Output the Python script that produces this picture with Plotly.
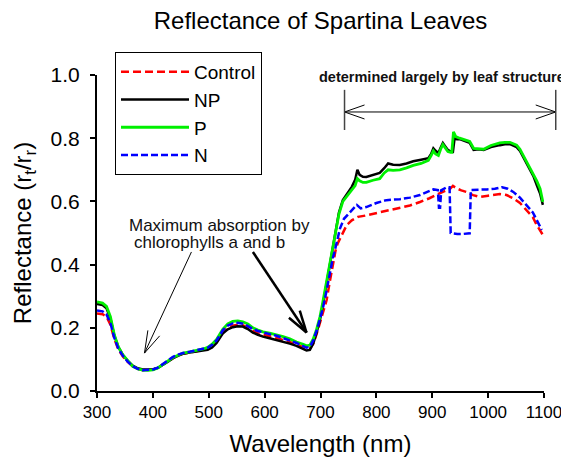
import math
import plotly.graph_objects as go

# ---------------- data ----------------
wl_control = [300, 310, 317, 324, 331, 338, 346, 355, 364, 373, 382, 391, 400, 409, 418, 427, 436, 445, 454, 466,
              478, 490, 498, 506, 514, 520, 525, 534, 543, 552, 561, 570, 579, 588, 597, 609, 621, 633, 645, 657,
              669, 675, 681, 687, 693, 699, 704, 711, 716, 722, 727, 731, 740, 747, 756, 767, 780, 801, 820, 842,
              860, 878, 895, 914, 925, 932, 937, 945, 952, 961, 973, 985, 1000, 1021, 1033, 1045, 1057, 1069, 1080,
              1087, 1093, 1098]
r_control = [0.245, 0.243, 0.235, 0.210, 0.165, 0.132, 0.110, 0.092, 0.078, 0.070, 0.066, 0.066, 0.068, 0.074,
             0.084, 0.095, 0.105, 0.113, 0.118, 0.122, 0.126, 0.130, 0.133, 0.140, 0.155, 0.170, 0.185, 0.200,
             0.207, 0.210, 0.208, 0.200, 0.190, 0.183, 0.178, 0.173, 0.168, 0.162, 0.155, 0.148, 0.138, 0.133,
             0.134, 0.150, 0.180, 0.215, 0.250, 0.288, 0.340, 0.405, 0.445, 0.468, 0.500, 0.525, 0.540, 0.551,
             0.555, 0.563, 0.570, 0.579, 0.587, 0.598, 0.610, 0.626, 0.635, 0.640, 0.649, 0.640, 0.635, 0.630,
             0.620, 0.614, 0.618, 0.623, 0.620, 0.610, 0.595, 0.573, 0.550, 0.525, 0.510, 0.494]

wl_np = [300, 310, 317, 324, 331, 338, 346, 355, 364, 373, 382, 391, 400, 409, 418, 427, 436, 445, 454, 466,
         478, 490, 498, 506, 514, 520, 525, 534, 543, 552, 561, 570, 579, 588, 597, 609, 621, 633, 645, 657,
         669, 675, 681, 687, 693, 699, 704, 710, 716, 722, 728, 733, 740, 748, 756, 762, 766, 770, 776, 782,
         794, 806, 814, 821, 830, 842, 854, 866, 880, 893, 898, 902, 906, 911, 915, 919, 923, 928, 933, 937,
         940, 944, 949, 958, 967, 974, 983, 992, 1005, 1021, 1030, 1039, 1051, 1057, 1063, 1069, 1075, 1081,
         1087, 1093, 1098]
r_np = [0.275, 0.272, 0.262, 0.230, 0.175, 0.140, 0.115, 0.095, 0.080, 0.072, 0.068, 0.067, 0.068, 0.073,
        0.082, 0.093, 0.104, 0.112, 0.118, 0.122, 0.125, 0.128, 0.130, 0.138, 0.152, 0.168, 0.182, 0.195,
        0.202, 0.205, 0.204, 0.196, 0.185, 0.178, 0.172, 0.167, 0.162, 0.156, 0.150, 0.143, 0.133, 0.128,
        0.130, 0.150, 0.185, 0.225, 0.270, 0.330, 0.390, 0.460, 0.520, 0.565, 0.604, 0.625, 0.646, 0.668,
        0.700, 0.684, 0.678, 0.677, 0.684, 0.690, 0.705, 0.720, 0.716, 0.715, 0.720, 0.727, 0.732, 0.737,
        0.750, 0.768, 0.760, 0.753, 0.770, 0.785, 0.775, 0.763, 0.758, 0.757, 0.800, 0.797, 0.797, 0.790,
        0.785, 0.763, 0.765, 0.763, 0.772, 0.778, 0.781, 0.781, 0.772, 0.760, 0.740, 0.720, 0.700, 0.680,
        0.652, 0.625, 0.589]

wl_p = [300, 310, 317, 324, 331, 338, 346, 355, 364, 373, 382, 391, 400, 409, 418, 427, 436, 445, 454, 466,
        478, 490, 498, 506, 514, 520, 525, 534, 543, 552, 561, 570, 579, 588, 597, 609, 621, 633, 645, 657,
        669, 675, 681, 687, 693, 699, 704, 710, 716, 722, 728, 733, 740, 748, 756, 762, 766, 770, 776, 782,
        794, 806, 814, 821, 830, 842, 854, 866, 880, 893, 898, 902, 906, 911, 915, 919, 923, 928, 933, 935,
        938, 942, 949, 958, 967, 974, 983, 992, 1005, 1021, 1030, 1039, 1051, 1057, 1063, 1069, 1075, 1081,
        1087, 1093, 1098]
r_p = [0.282, 0.278, 0.268, 0.235, 0.178, 0.140, 0.115, 0.095, 0.078, 0.070, 0.066, 0.065, 0.067, 0.073,
       0.083, 0.095, 0.106, 0.114, 0.120, 0.124, 0.128, 0.133, 0.138, 0.148, 0.163, 0.180, 0.195, 0.212,
       0.220, 0.222, 0.219, 0.212, 0.200, 0.193, 0.187, 0.183, 0.178, 0.172, 0.165, 0.155, 0.148, 0.143,
       0.145, 0.165, 0.195, 0.235, 0.280, 0.340, 0.395, 0.460, 0.520, 0.560, 0.600, 0.618, 0.635, 0.650,
       0.672, 0.665, 0.660, 0.660, 0.667, 0.672, 0.690, 0.700, 0.698, 0.700, 0.706, 0.714, 0.720, 0.730,
       0.745, 0.760, 0.750, 0.745, 0.765, 0.780, 0.770, 0.758, 0.755, 0.755, 0.820, 0.805, 0.800, 0.795,
       0.790, 0.768, 0.766, 0.765, 0.777, 0.785, 0.787, 0.787, 0.778, 0.765, 0.745, 0.725, 0.710, 0.690,
       0.665, 0.640, 0.598]

wl_n = [300, 310, 317, 324, 331, 338, 346, 355, 364, 373, 382, 391, 400, 409, 418, 427, 436, 445, 454, 466,
        478, 490, 498, 506, 514, 520, 525, 534, 543, 552, 561, 570, 579, 588, 597, 609, 621, 633, 645, 657,
        669, 675, 681, 687, 693, 699, 704, 710, 716, 722, 725, 731, 735, 742, 752, 760, 765, 772, 782, 800,
        818, 842, 860, 878, 895, 902, 910, 912, 914, 916, 926, 931, 933, 945, 955, 967, 969, 985, 998, 1012,
        1025, 1035, 1045, 1057, 1069, 1080, 1087, 1096]
r_n = [0.255, 0.252, 0.242, 0.215, 0.168, 0.135, 0.112, 0.093, 0.078, 0.070, 0.066, 0.066, 0.068, 0.074,
       0.085, 0.097, 0.108, 0.115, 0.120, 0.124, 0.128, 0.133, 0.137, 0.146, 0.160, 0.177, 0.192, 0.207,
       0.214, 0.216, 0.213, 0.205, 0.196, 0.190, 0.185, 0.180, 0.175, 0.168, 0.160, 0.152, 0.142, 0.137,
       0.140, 0.160, 0.190, 0.225, 0.260, 0.310, 0.370, 0.420, 0.440, 0.490, 0.515, 0.545, 0.563, 0.580,
       0.589, 0.578, 0.582, 0.595, 0.604, 0.607, 0.612, 0.620, 0.632, 0.638, 0.636, 0.580, 0.580, 0.635,
       0.645, 0.645, 0.500, 0.497, 0.497, 0.499, 0.636, 0.636, 0.638, 0.640, 0.645, 0.640, 0.630, 0.612,
       0.589, 0.565, 0.541, 0.510]

x_ticks = [300, 400, 500, 600, 700, 800, 900, 1000, 1100]
y_ticks = [0.0, 0.2, 0.4, 0.6, 0.8, 1.0]

# ---------------- layout geometry ----------------
# The page body has an 8px default margin, so the figure is drawn 8px smaller
# and all screen positions below are given in window pixels.
OFF = 8
WIN_W, WIN_H = 569, 464
W, H = WIN_W - OFF, WIN_H - OFF
SL, SR, ST, SB = 97, 544, 75, 391          # plot area in window pixels
ML, MR, MT, MB = SL - OFF, WIN_W - SR, ST - OFF, WIN_H - SB
PW, PH = SR - SL, SB - ST
X0, X1 = 300, 1100
Y0, Y1 = 0.0, 1.0

def to_px(x, y):
    return SL + (x - X0) / (X1 - X0) * PW, ST + (Y1 - y) / (Y1 - Y0) * PH

def to_paper(px, py):
    return (px - SL) / PW, (SB - py) / PH

FONT = "Liberation Sans, Arial, Helvetica, sans-serif"

fig = go.Figure()
fig.add_trace(go.Scatter(x=wl_control, y=r_control, name="Control", mode="lines",
                         line=dict(color="#ff0000", width=2.5, dash="8px,4px")))
fig.add_trace(go.Scatter(x=wl_np, y=r_np, name="NP", mode="lines",
                         line=dict(color="#000000", width=2.5)))
fig.add_trace(go.Scatter(x=wl_p, y=r_p, name="P", mode="lines",
                         line=dict(color="#00f000", width=2.8)))
fig.add_trace(go.Scatter(x=wl_n, y=r_n, name="N", mode="lines",
                         line=dict(color="#0000ff", width=2.5, dash="7px,3px")))

shapes = []

def seg(p, q, color="black", width=1.0):
    a = to_paper(*p)
    b = to_paper(*q)
    shapes.append(dict(type="line", xref="paper", yref="paper", x0=a[0], y0=a[1], x1=b[0], y1=b[1],
                       line=dict(color=color, width=width), layer="above"))

def arrow(start, tip, head_len, head_half, width, both=False):
    # start / tip in data coordinates
    sp = to_px(*start)
    tp = to_px(*tip)
    seg(sp, tp, width=width)

    def head(a, b):
        dx, dy = a[0] - b[0], a[1] - b[1]
        L = math.hypot(dx, dy)
        ux, uy = dx / L, dy / L
        nx, ny = -uy, ux
        for s in (1, -1):
            seg(b, (b[0] + ux * head_len + s * nx * head_half, b[1] + uy * head_len + s * ny * head_half),
                width=width)
    head(sp, tp)
    if both:
        head(tp, sp)

# annotation arrows
arrow((469, 0.44), (385, 0.12), 22, 6.5, 1.0)
arrow((579, 0.44), (675, 0.185), 22, 6.5, 2.5)
# double arrow "determined largely by leaf structure"
arrow((743, 0.883), (1121, 0.883), 20, 7, 1.0, both=True)
for xb in (743, 1121):
    seg(to_px(xb, 0.826), to_px(xb, 0.953), color="#444444", width=1.5)

annotations = [
    dict(x=to_paper(127, 0)[0], y=to_paper(0, 225)[1], xref="paper", yref="paper", xanchor="left",
         yanchor="middle", text="Maximum absorption by", showarrow=False,
         font=dict(family=FONT, size=17, color="#111111")),
    dict(x=to_paper(132, 0)[0], y=to_paper(0, 243)[1], xref="paper", yref="paper", xanchor="left",
         yanchor="middle", text="chlorophylls a and b", showarrow=False,
         font=dict(family=FONT, size=17, color="#111111")),
    dict(x=to_paper(442, 0)[0], y=to_paper(0, 77)[1], xref="paper", yref="paper", xanchor="center",
         yanchor="middle", text="<b>determined largely by leaf structure</b>", showarrow=False,
         font=dict(family=FONT, size=14.5, color="#111111")),
]

fig.update_layout(
    width=W, height=H,
    margin=dict(l=ML, r=MR, t=MT, b=MB, pad=0, autoexpand=False),
    paper_bgcolor="white", plot_bgcolor="white",
    font=dict(family=FONT, color="black"),
    title=dict(text="Reflectance of Spartina Leaves", x=(SL + PW / 2 - OFF) / W, xanchor="center",
               y=1 - (20.5 - OFF) / H, yanchor="middle", yref="container",
               font=dict(family=FONT, size=24, color="black")),
    showlegend=True,
    legend=dict(x=to_paper(115, 0)[0], y=to_paper(0, 52)[1], xanchor="left", yanchor="top",
                bordercolor="black", borderwidth=1, bgcolor="white",
                font=dict(family=FONT, size=19, color="black"), itemwidth=68,
                tracegroupgap=0),
    shapes=shapes,
    annotations=annotations,
)
fig.update_xaxes(range=[X0, X1], tickvals=x_ticks, ticktext=[str(v) for v in x_ticks], automargin=False,
                 showgrid=False, zeroline=False, showline=True, linecolor="black", linewidth=2,
                 ticks="outside", ticklen=5, tickwidth=1.5, tickcolor="black",
                 tickfont=dict(family=FONT, size=17, color="black"),
                 title=dict(text="Wavelength (nm)", font=dict(family=FONT, size=24, color="black"), standoff=14))
fig.update_yaxes(range=[Y0, Y1], tickvals=y_ticks, ticktext=[f"{v:.1f}" for v in y_ticks], automargin=False,
                 showgrid=False, zeroline=False, showline=True, linecolor="black", linewidth=2,
                 ticks="outside", ticklen=5, tickwidth=1.5, tickcolor="black",
                 tickfont=dict(family=FONT, size=21, color="black"), ticklabelstandoff=6,
                 title=dict(text="Reflectance (r<sub>t</sub>/r<sub>r</sub>)",
                            font=dict(family=FONT, size=24, color="black"), standoff=12))

fig.write_html("out.html")
